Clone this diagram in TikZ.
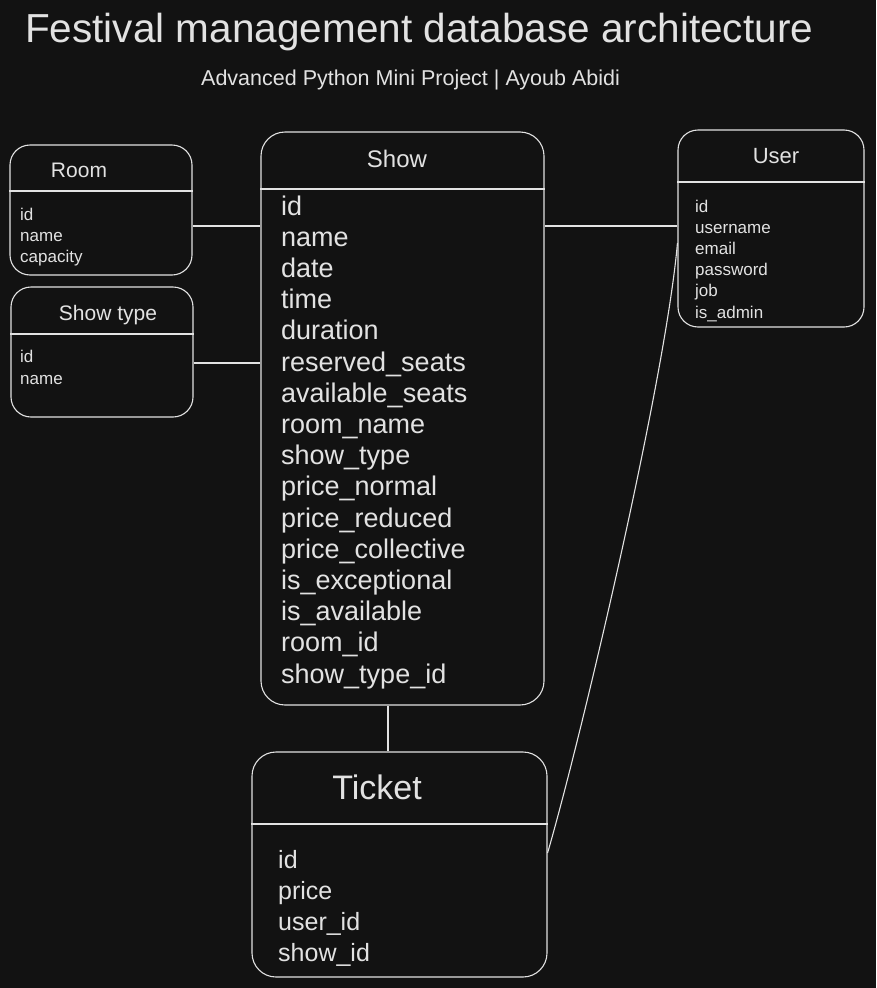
\documentclass[tikz,border=0pt]{standalone}
\usepackage{fontspec}
\setmainfont{Liberation Sans}
\definecolor{bg}{HTML}{121212}
\definecolor{ink}{HTML}{E2E2E2}
\tikzset{
  tbl/.style={draw=ink, line width=1.1pt, rounded corners=#1, inner sep=0pt, fill=bg},
  hdr/.style={draw=ink, line width=1.1pt},
  conn/.style={draw=ink, line width=1.1pt},
  fld/.style={text=ink, anchor=base west, inner sep=0pt},
  ttl/.style={text=ink, anchor=base, inner sep=0pt},
}
\begin{document}
\begin{tikzpicture}[x=1pt,y=-1pt]
\fill[bg] (0,0) rectangle (876,988);
\useasboundingbox (0,0) rectangle (876,988);

% titles
\node[text=ink, anchor=base west, inner sep=0pt, font=\fontsize{40.5}{44}\selectfont] (title) at (25,42) {Festival management database architecture};
\node[text=ink, anchor=base west, inner sep=0pt, font=\fontsize{21.5}{24}\selectfont] (subtitle) at (201,85) {Advanced Python Mini Project | Ayoub Abidi};

% tables
\node[tbl=20pt, minimum width=182pt, minimum height=130pt] (room) at (101,210) {};
\node[tbl=20pt, minimum width=182pt, minimum height=130pt] (stype) at (102,352) {};
\node[tbl=24pt, minimum width=283pt, minimum height=573pt] (show) at (402.5,418.5) {};
\node[tbl=20pt, minimum width=186pt, minimum height=197pt] (user) at (771,228.5) {};
\node[tbl=24pt, minimum width=295pt, minimum height=225pt] (ticket) at (399.5,864.5) {};

% header lines
\draw[hdr] (room.west |- 0,191) -- (room.east |- 0,191);
\draw[hdr] (stype.west |- 0,334) -- (stype.east |- 0,334);
\draw[hdr] (show.west |- 0,189) -- (show.east |- 0,189);
\draw[hdr] (user.west |- 0,182) -- (user.east |- 0,182);
\draw[hdr] (ticket.west |- 0,824) -- (ticket.east |- 0,824);

% table names
\node[ttl, font=\fontsize{21}{24}\selectfont] (roomt) at (79,177) {Room};
\node[ttl, font=\fontsize{21}{24}\selectfont] (stypet) at (108,320) {Show type};
\node[ttl, font=\fontsize{24}{27}\selectfont] (showt) at (397,167) {Show};
\node[ttl, font=\fontsize{22}{26}\selectfont] (usert) at (776,163) {User};
\node[ttl, font=\fontsize{34}{38}\selectfont] (tickett) at (377,799) {Ticket};

% fields
\foreach \t [count=\i from 0] in {id,name,capacity}
  \node[fld, font=\fontsize{17}{20}\selectfont] (roomf\i) at ({20},{220+21*\i}) {\t};
\foreach \t [count=\i from 0] in {id,name}
  \node[fld, font=\fontsize{17}{20}\selectfont] (stypef\i) at ({20},{362+22*\i}) {\t};
\foreach \t [count=\i from 0] in {id,name,date,time,duration,reserved\_seats,available\_seats,room\_name,show\_type,price\_normal,price\_reduced,price\_collective,is\_exceptional,is\_available,room\_id,show\_type\_id}
  \node[fld, font=\fontsize{27}{30}\selectfont] (showf\i) at ({281},{215+31.2*\i}) {\t};
\foreach \t [count=\i from 0] in {id,username,email,password,job,is\_admin}
  \node[fld, font=\fontsize{17}{20}\selectfont] (userf\i) at ({695},{212+21.2*\i}) {\t};
\foreach \t [count=\i from 0] in {id,price,user\_id,show\_id}
  \node[fld, font=\fontsize{25}{30}\selectfont] (ticketf\i) at ({278},{868+31*\i}) {\t};

% connectors
\draw[conn] ([yshift=-16pt]room.east) -- ([yshift=-16pt]room.east -| show.west);
\draw[conn] ([yshift=-11pt]stype.east) -- ([yshift=-11pt]stype.east -| show.west);
\draw[conn] ([yshift=2.5pt]user.west) -- ([yshift=2.5pt]user.west -| show.east);
\draw[conn] ([xshift=-14.5pt]show.south) -- ([xshift=-14.5pt]show.south |- ticket.north);
\draw[conn] ([yshift=11.5pt]ticket.east) .. controls +(33,-113) and +(-12,137) .. ([yshift=-14.5pt]user.west);
\end{tikzpicture}
\end{document}
